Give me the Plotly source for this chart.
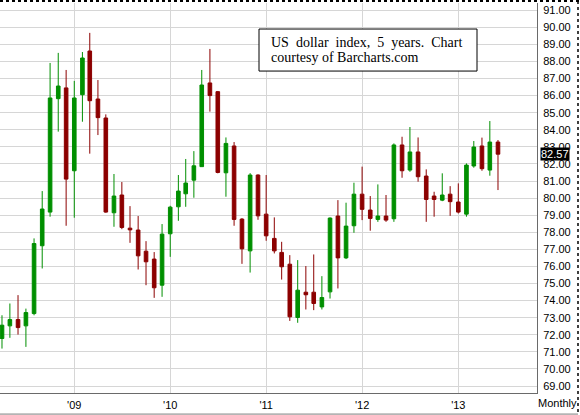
import pandas as pd
import plotly.graph_objects as go

months = pd.date_range("2008-04-01", periods=63, freq="MS")

open_ = [71.78, 72.52, 72.89, 72.52, 73.24, 77.21, 79.18, 85.82, 86.45, 81.60,
         86.05, 88.61, 85.80, 84.69, 79.14, 80.18, 78.24, 78.13, 76.89, 76.43,
         74.90, 77.91, 79.49, 80.25, 81.05, 81.84, 86.74, 86.23, 81.48, 83.05,
         78.77, 76.91, 81.35, 79.06, 77.64, 76.82, 76.13, 73.01, 74.49, 74.49,
         73.63, 74.51, 78.95, 76.50, 78.38, 80.23, 79.30, 78.75, 78.95, 78.79,
         83.11, 81.64, 82.70, 81.29, 80.12, 79.88, 80.23, 79.77, 79.06, 81.88,
         83.05, 81.64, 83.28]
high = [73.14, 73.83, 74.32, 73.53, 77.64, 80.41, 87.91, 88.50, 87.50, 86.86,
        88.55, 89.67, 86.91, 84.90, 81.41, 80.94, 79.53, 78.95, 77.48, 76.84,
        78.48, 79.55, 81.35, 82.29, 82.75, 87.50, 88.73, 86.27, 83.55, 83.28,
        78.83, 81.46, 81.39, 81.35, 78.87, 77.44, 76.66, 76.37, 76.02, 76.70,
        75.43, 78.87, 79.88, 79.73, 80.90, 81.84, 80.12, 80.80, 80.18, 83.20,
        83.59, 84.16, 83.55, 81.68, 80.37, 81.45, 80.70, 80.86, 82.03, 83.34,
        83.54, 84.51, 83.40]
low = [71.19, 71.82, 72.01, 71.29, 73.14, 75.88, 78.91, 83.89, 78.38, 78.85,
       84.47, 82.60, 83.69, 79.14, 78.32, 78.18, 77.38, 75.82, 74.90, 74.16,
       74.22, 76.56, 78.67, 79.49, 80.02, 81.84, 85.06, 81.45, 80.08, 78.38,
       76.15, 75.64, 78.73, 77.50, 76.76, 75.23, 72.81, 72.70, 73.48, 73.44,
       73.48, 74.12, 74.71, 76.43, 77.97, 78.71, 78.09, 78.61, 78.61, 78.61,
       81.19, 81.54, 80.96, 78.61, 78.91, 79.82, 78.96, 79.10, 78.91, 81.78,
       81.60, 81.31, 80.47]
close = [72.56, 72.89, 72.42, 73.30, 77.34, 79.36, 85.86, 86.56, 81.11, 85.86,
         88.20, 85.70, 84.71, 79.18, 80.12, 78.28, 78.14, 76.62, 76.27, 74.75,
         77.89, 79.47, 80.41, 80.88, 81.89, 86.62, 86.00, 81.50, 83.20, 78.75,
         77.03, 81.35, 78.96, 77.79, 76.91, 75.98, 73.05, 74.61, 74.34, 73.83,
         74.18, 78.83, 76.50, 78.36, 80.23, 79.34, 78.81, 78.95, 78.71, 83.11,
         81.60, 82.70, 81.25, 79.92, 79.92, 80.18, 79.79, 79.18, 81.93, 82.99,
         81.72, 83.28, 82.57]

last_close = 82.57
title_line1 = "US\u00a0 dollar\u00a0 index,\u00a0 5\u00a0 years.\u00a0 Chart"
title_line2 = "courtesy of Barcharts.com"

GREEN = "#008f00"
RED = "#8c0000"

fig = go.Figure(go.Candlestick(
    x=months, open=open_, high=high, low=low, close=close,
    increasing=dict(line=dict(color=GREEN, width=1), fillcolor=GREEN),
    decreasing=dict(line=dict(color=RED, width=1), fillcolor=RED),
    whiskerwidth=0, showlegend=False, hoverinfo="skip",
))

# plot area: x 0..537 px, y 3..392.7 px
PW, PH, PT = 537.0, 389.7, 3.0


def px(x):
    return x / PW


def py(y):
    return 1 - (y - PT) / PH


fig.update_layout(
    width=580, height=415,
    margin=dict(l=0, r=43, t=3, b=22, pad=0),
    paper_bgcolor="white", plot_bgcolor="white",
    font=dict(family="Arial, Liberation Sans, sans-serif", size=11, color="black"),
    hovermode=False,
    xaxis=dict(
        type="date", range=["2008-03-24 10:00", "2013-10-27 10:00"],
        rangeslider=dict(visible=False),
        tick0="2009-01-01", dtick="M12", tickformat="'%y",
        showgrid=True, gridcolor="#d6d6d6", gridwidth=1,
        showline=True, linecolor="#6a6a6a", linewidth=1,
        ticks="", zeroline=False, ticklabelstandoff=2,
    ),
    yaxis=dict(
        side="right", range=[68.59, 91.42], dtick=1, tick0=69,
        tickformat=".2f", showgrid=True, gridcolor="#d6d6d6", gridwidth=1,
        showline=True, linecolor="#6a6a6a", linewidth=1,
        ticks="", zeroline=False, ticklabelstandoff=3,
    ),
    shapes=[
        dict(type="rect", xref="paper", yref="paper",
             x0=px(259), x1=px(477), y0=py(71), y1=py(29),
             line=dict(color="black", width=1), fillcolor="white", layer="above"),
        dict(type="line", xref="paper", yref="paper",
             x0=0, x1=px(579), y0=py(1), y1=py(1),
             line=dict(color="black", width=2, dash="dot")),
        dict(type="line", xref="paper", yref="paper",
             x0=px(578), x1=px(578), y0=py(1), y1=py(415),
             line=dict(color="black", width=1.5, dash="dot")),
        dict(type="line", xref="paper", yref="paper",
             x0=0, x1=px(578), y0=py(414), y1=py(414),
             line=dict(color="#b4b4b4", width=2)),
    ],
    annotations=[
        dict(xref="paper", yref="y", x=1, y=last_close, xanchor="left", yanchor="middle",
             xshift=3, text=f"{last_close:.2f}", showarrow=False,
             bgcolor="black", font=dict(color="white", size=11), borderpad=0),
        dict(xref="paper", yref="paper", x=px(557), y=py(403), xanchor="center",
             yanchor="middle", text="Monthly", showarrow=False,
             font=dict(size=11, color="black")),
        dict(xref="paper", yref="paper", x=px(269), y=py(42), xanchor="left",
             yanchor="middle", text=title_line1, showarrow=False,
             font=dict(family="Liberation Serif, Times New Roman, serif", size=14, color="black")),
        dict(xref="paper", yref="paper", x=px(269), y=py(57.5), xanchor="left",
             yanchor="middle", text=title_line2, showarrow=False,
             font=dict(family="Liberation Serif, Times New Roman, serif", size=14, color="black")),
    ],
)

fig.write_html(
    "out.html",
    config={"displayModeBar": False, "staticPlot": True},
    post_script="document.body.style.margin='0px';document.body.style.overflow='hidden';",
)
